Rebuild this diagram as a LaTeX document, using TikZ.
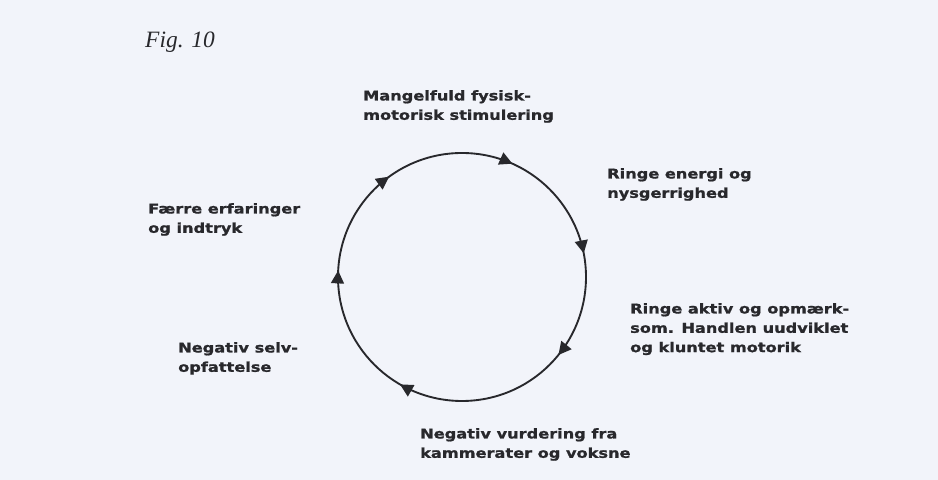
\documentclass[tikz,border=0pt]{standalone}
\usepackage{fontspec}
\usetikzlibrary{arrows.meta}
\newfontfamily\rotulo[FakeStretch=1.2, BoldFeatures={FakeBold=1.2}]{DejaVu Sans}
\newfontfamily\titulo{Liberation Serif}
\definecolor{papel}{RGB}{242,244,250}
\definecolor{tinta}{RGB}{40,40,44}
\begin{document}
\begin{tikzpicture}[x=0.03cm, y=0.03cm,
    etiqueta/.style={anchor=north west, inner sep=0pt, align=left, text=tinta,
      font=\rotulo\bfseries\fontsize{11.5}{16.5}\selectfont},
    flecha/.style={-{Triangle[length=11pt,width=11pt]}, tinta, line width=1.6pt}]
                % Fondo
                \fill[papel] (0,0) rectangle (938,480);
                \useasboundingbox (0,0) rectangle (938,480);
                % Titulo
                \node[anchor=north west, inner sep=0pt, text=tinta,
                  font=\titulo\fontsize{20}{22}\selectfont\itshape] (fig) at (145,448) {Fig. 10};
                % Circulo
                \coordinate (c) at (462,203);
                \draw[tinta, line width=1.6pt] (c) circle (124);
                % Flechas en sentido horario
                \foreach \a in {66,11,-39,-120,177,126}
                  \draw[flecha] (c) ++(\a+5:124) arc (\a+5:\a:124);
                % Textos
                \node[etiqueta] (mangel) at (363,390) {Mangelfuld fysisk-\\motorisk stimulering};
                \node[etiqueta] (energi) at (607,312) {Ringe energi og\\nysgerrighed};
                \node[etiqueta] (aktiv) at (630,177) {Ringe aktiv og opmærk-\\som. Handlen uudviklet\\og kluntet motorik};
                \node[etiqueta] (vurdering) at (420,52) {Negativ vurdering fra\\kammerater og voksne};
                \node[etiqueta] (selv) at (178,138) {Negativ selv-\\opfattelse};
                \node[etiqueta] (faerre) at (148,277) {Færre erfaringer\\og indtryk};
\end{tikzpicture}
\end{document}
